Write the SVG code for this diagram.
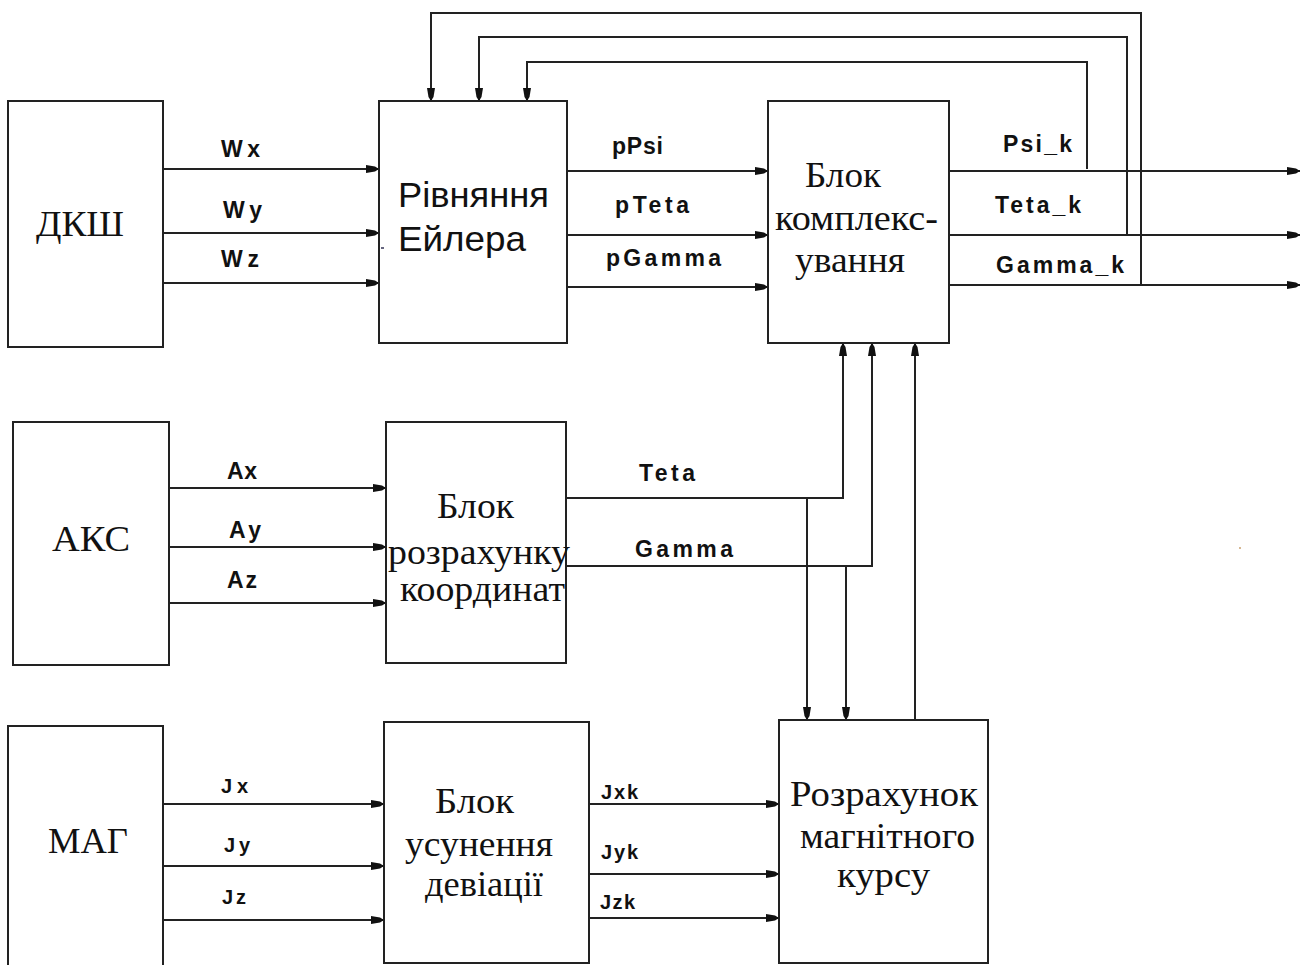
<svg xmlns="http://www.w3.org/2000/svg" width="1309" height="965" viewBox="0 0 1309 965">
<style>
  .box { fill: #ffffff; stroke: #222222; stroke-width: 2; }
  .wire { fill: none; stroke: #222222; stroke-width: 2; marker-end: url(#arr); }
  .serif { font-family: "Liberation Serif", "Times New Roman", serif; font-size: 35px; fill: #111111; }
  .sans { font-family: "Liberation Sans", Arial, sans-serif; font-size: 35px; fill: #111111; }
  .lbl { font-family: "Liberation Sans", Arial, sans-serif; font-size: 23px; font-weight: bold; fill: #111111; }
  .lbls { font-family: "Liberation Sans", Arial, sans-serif; font-size: 20px; font-weight: bold; fill: #111111; }
</style>
<defs>
  <marker id="arr" markerUnits="userSpaceOnUse" viewBox="-15 -6 16 12" markerWidth="16" markerHeight="12" refX="0" refY="0" orient="auto">
    <path d="M0,0 L-4,-2.5 L-13,-4 L-13,4 L-4,2.5 Z" fill="#111111"/>
  </marker>
</defs>
<rect width="1309" height="965" fill="#ffffff"/>

<g id="connectors">
  <path class="wire" d="M1141,285 V13 H431 V101"/>
  <path class="wire" d="M1127,235 V37 H479 V101"/>
  <path class="wire" d="M1087,169 V62 H527 V101"/>
  <path class="wire" d="M163,169 H379"/>
  <path class="wire" d="M163,233 H379"/>
  <path class="wire" d="M163,283 H379"/>
  <path class="wire" d="M567,171 H768"/>
  <path class="wire" d="M567,235 H768"/>
  <path class="wire" d="M567,287 H768"/>
  <path class="wire" d="M949,171 H1300"/>
  <path class="wire" d="M949,235 H1300"/>
  <path class="wire" d="M949,285 H1300"/>
  <path class="wire" d="M169,488 H386"/>
  <path class="wire" d="M169,547 H386"/>
  <path class="wire" d="M169,603 H386"/>
  <path class="wire" d="M566,498 H843 V343"/>
  <path class="wire" d="M807,498 V720"/>
  <path class="wire" d="M566,566 H872 V343"/>
  <path class="wire" d="M846,566 V720"/>
  <path class="wire" d="M915,720 V343"/>
  <path class="wire" d="M163,804 H384"/>
  <path class="wire" d="M163,866 H384"/>
  <path class="wire" d="M163,920 H384"/>
  <path class="wire" d="M589,804 H779"/>
  <path class="wire" d="M589,874 H779"/>
  <path class="wire" d="M589,918 H779"/>
</g>

<g id="labels">
  <text class="lbl" x="221" y="157" textLength="39">Wx</text>
  <text class="lbl" x="223" y="218" textLength="39">Wy</text>
  <text class="lbl" x="221" y="267" textLength="38">Wz</text>
  <text class="lbl" x="612" y="154" textLength="51">pPsi</text>
  <text class="lbl" x="615" y="213" textLength="74">pTeta</text>
  <text class="lbl" x="606" y="266" textLength="115">pGamma</text>
  <text class="lbl" x="1003" y="152" textLength="69">Psi_k</text>
  <text class="lbl" x="995" y="213" textLength="86">Teta_k</text>
  <text class="lbl" x="996" y="273" textLength="128">Gamma_k</text>
  <text class="lbl" x="227" y="479" textLength="30">Ax</text>
  <text class="lbl" x="229" y="538" textLength="32">Ay</text>
  <text class="lbl" x="227" y="588" textLength="30">Az</text>
  <text class="lbl" x="639" y="481" textLength="56">Teta</text>
  <text class="lbl" x="635" y="557" textLength="98">Gamma</text>
  <text class="lbls" x="221" y="793" textLength="27">Jx</text>
  <text class="lbls" x="224" y="852" textLength="26">Jy</text>
  <text class="lbls" x="222" y="904" textLength="24">Jz</text>
  <text class="lbls" x="601" y="799" textLength="37">Jxk</text>
  <text class="lbls" x="601" y="859" textLength="37">Jyk</text>
  <text class="lbls" x="600" y="909" textLength="35">Jzk</text>
</g>

<g id="dksh">
  <rect class="box" x="8" y="101" width="155" height="246"/>
  <text class="serif" x="36" y="236" textLength="88" lengthAdjust="spacingAndGlyphs">ДКШ</text>
</g>

<g id="euler">
  <rect class="box" x="379" y="101" width="188" height="242"/>
  <text class="sans" x="398" y="207" textLength="151" lengthAdjust="spacingAndGlyphs">Рівняння</text>
  <text class="sans" x="398" y="251" textLength="128" lengthAdjust="spacingAndGlyphs">Ейлера</text>
  <line x1="381" y1="248" x2="384" y2="248" stroke="#335" stroke-width="1.5"/>
</g>

<g id="complex">
  <rect class="box" x="768" y="101" width="181" height="242"/>
  <text class="serif" x="805" y="187" textLength="76" lengthAdjust="spacingAndGlyphs">Блок</text>
  <text class="serif" x="775" y="230" textLength="163" lengthAdjust="spacingAndGlyphs">комплекс-</text>
  <text class="serif" x="795" y="272" textLength="110" lengthAdjust="spacingAndGlyphs">ування</text>
</g>

<g id="aks">
  <rect class="box" x="13" y="422" width="156" height="243"/>
  <text class="serif" x="52" y="551" textLength="78" lengthAdjust="spacingAndGlyphs">АКС</text>
</g>

<g id="coords">
  <rect class="box" x="386" y="422" width="180" height="241"/>
  <text class="serif" x="437" y="518" textLength="77" lengthAdjust="spacingAndGlyphs">Блок</text>
  <text class="serif" x="388" y="564" textLength="182" lengthAdjust="spacingAndGlyphs">розрахунку</text>
  <text class="serif" x="400" y="601" textLength="165" lengthAdjust="spacingAndGlyphs">координат</text>
</g>

<g id="mag">
  <rect class="box" x="8" y="726" width="155" height="250"/>
  <text class="serif" x="48" y="853" textLength="80" lengthAdjust="spacingAndGlyphs">МАГ</text>
</g>

<g id="deviation">
  <rect class="box" x="384" y="722" width="205" height="241"/>
  <text class="serif" x="435" y="813" textLength="79" lengthAdjust="spacingAndGlyphs">Блок</text>
  <text class="serif" x="405" y="856" textLength="148" lengthAdjust="spacingAndGlyphs">усунення</text>
  <text class="serif" x="425" y="896" textLength="118" lengthAdjust="spacingAndGlyphs">девіації</text>
</g>

<g id="magcourse">
  <rect class="box" x="779" y="720" width="209" height="243"/>
  <text class="serif" x="790" y="806" textLength="188" lengthAdjust="spacingAndGlyphs">Розрахунок</text>
  <text class="serif" x="800" y="848" textLength="175" lengthAdjust="spacingAndGlyphs">магнітного</text>
  <text class="serif" x="837" y="887" textLength="93" lengthAdjust="spacingAndGlyphs">курсу</text>
</g>

<circle cx="1240" cy="548" r="1" fill="#c8a070"/>
</svg>
